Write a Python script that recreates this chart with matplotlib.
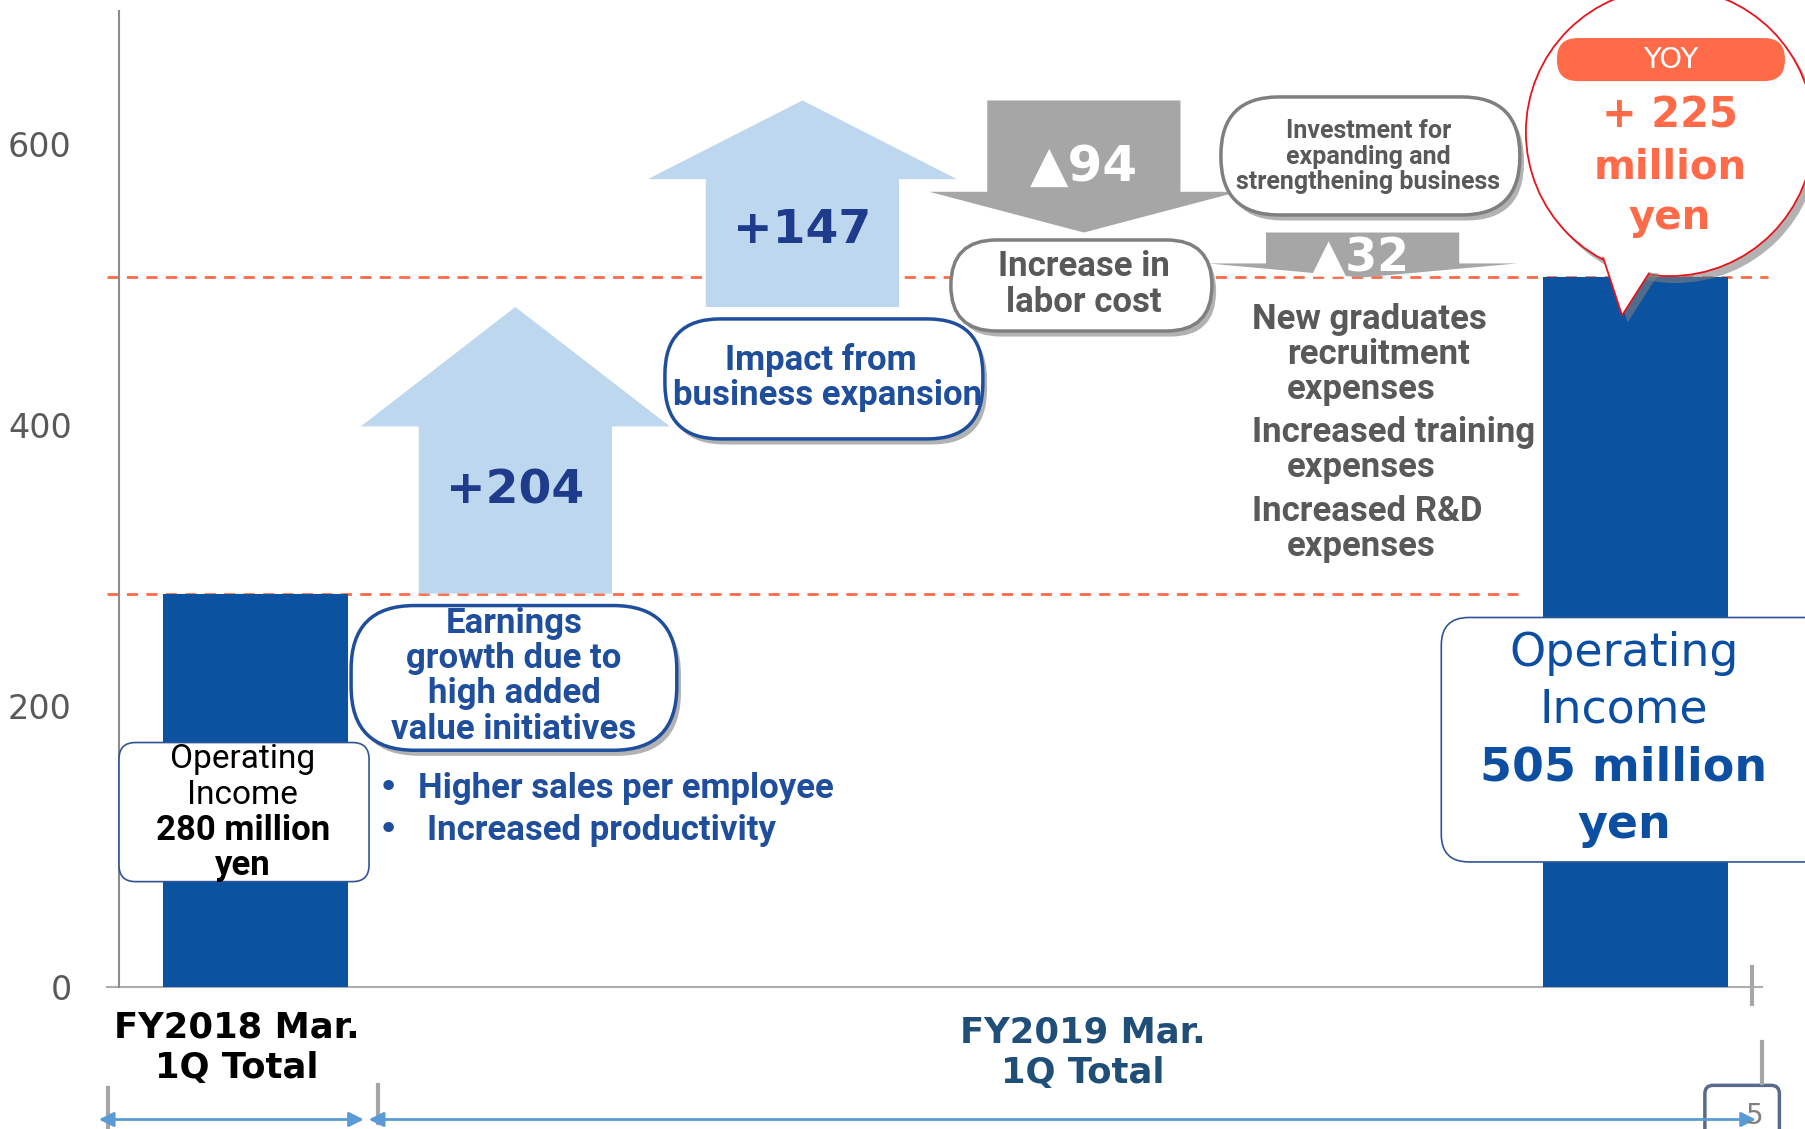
import matplotlib.pyplot as plt
from matplotlib.patches import FancyBboxPatch, Polygon, Ellipse
import matplotlib.patheffects as pe

# values (million yen)
start_value = 280
step_values = [204, 147, -94, -32]
step_labels = ['+204', '+147', '▲94', '▲32']
end_value = 505
y_ticks = [0, 200, 400, 600]
period_labels = ['FY2018 Mar.\n1Q Total', 'FY2019 Mar.\n1Q Total']
start_box = ['Operating', 'Income', '280 million', 'yen']
end_box = ['Operating', 'Income', '505 million', 'yen']
yoy_lines = ['+ 225', 'million', 'yen']
bullets = ['Higher sales per employee', 'Increased productivity']
invest_items = [('New graduates', 'recruitment', 'expenses'),
                ('Increased training', 'expenses'),
                ('Increased R&D', 'expenses')]

# layout
bar_x = [0, 5.0]
step_x = [0.94, 1.98, 3.0, 4.01]
head_len = [85, 56, 29, 10]
BAR_BLUE = '#0B52A0'
UP_BLUE = '#BDD7EE'
DOWN_GRAY = '#A6A6A6'
NAVY = '#1F3B8C'
MID_BLUE = '#1F4E9C'
TEXT_GRAY = '#595959'
ORANGE = '#FF6A48'
NARROW = ['Roboto', 'DejaVu Sans']

fig = plt.figure(figsize=(18.06, 11.29), dpi=100)
ax = fig.add_axes([119 / 1806, 142 / 1129, 1643 / 1806, 987 / 1129])
ax.set_xlim(-0.496, 5.457)
ax.set_ylim(0, 702.5)
ASP = (1643 / 5.953) / (987 / 702.5)   # px per x unit / px per y unit

for s in ['top', 'right', 'bottom']:
    ax.spines[s].set_visible(False)
ax.spines['left'].set_color('#8C8C8C')
ax.spines['left'].set_linewidth(1.5)
ax.spines['left'].set_bounds(0, 695)
ax.set_xticks([])
ax.set_yticks(y_ticks)
ax.set_yticklabels([str(v) for v in y_ticks], fontsize=24, color=TEXT_GRAY)
ax.tick_params(axis='y', length=0, pad=34)

# baseline and reference lines
ax.plot([-0.54, 5.457], [0, 0], color='#ADADAD', lw=1.5, clip_on=False, zorder=1)
ax.plot([5.42, 5.42], [14, -12], color='#A6A6A6', lw=3, clip_on=False)
ax.plot([-0.54, 4.572], [start_value, start_value], ls=(0, (4, 3)), color=ORANGE, lw=2,
        zorder=2, clip_on=False)
ax.plot([-0.54, 5.478], [end_value, end_value], ls=(0, (4, 3)), color=ORANGE, lw=2,
        zorder=2, clip_on=False)

# bars
ax.bar(bar_x, [start_value, end_value], width=0.67, color=BAR_BLUE, zorder=3)

# step arrows
level = start_value
for x, d, hl in zip(step_x, step_values, head_len):
    y0, y1 = level, level + d
    sgn = 1 if d > 0 else -1
    yb = y1 - sgn * hl
    sw, hw = 0.70, 1.12
    pts = [(x - sw / 2, y0), (x - sw / 2, yb), (x - hw / 2, yb), (x, y1),
           (x + hw / 2, yb), (x + sw / 2, yb), (x + sw / 2, y0)]
    col = UP_BLUE if d > 0 else DOWN_GRAY
    ax.add_patch(Polygon(pts, closed=True, fc=col, ec='none', zorder=2.5))
    level = y1

ax.text(step_x[0], 353, step_labels[0], ha='center', va='center', fontsize=34,
        fontweight='bold', color=NAVY, zorder=6)
ax.text(step_x[1], 538.5, step_labels[1], ha='center', va='center', fontsize=34,
        fontweight='bold', color=NAVY, zorder=6)
ax.text(step_x[2], 584, step_labels[2], ha='center', va='center', fontsize=36,
        fontweight='bold', color='white', zorder=6)
ax.text(step_x[3] - 0.01, 518, step_labels[3], ha='center', va='center', fontsize=33,
        fontweight='bold', color='white', zorder=6)


def bubble(xc, yc, w, h, r, ec, lw, shadow=True, z=5):
    effects = [pe.SimplePatchShadow(offset=(3, -4), shadow_rgbFace='#7F7F7F', alpha=0.6),
               pe.Normal()] if shadow else None
    p = FancyBboxPatch((xc - w / 2, yc - h / 2), w, h,
                       boxstyle=f'round,pad=0,rounding_size={r}', mutation_aspect=ASP,
                       fc='white', ec=ec, lw=lw, zorder=z, clip_on=False,
                       path_effects=effects)
    ax.add_patch(p)


# earnings bubble
bubble(0.935, 220, 1.18, 103, 0.23, MID_BLUE, 2.5)
for i, line in enumerate(['Earnings', 'growth due to', 'high added', 'value initiatives']):
    ax.text(0.935, 259 - i * 25.2, line, ha='center', va='center', fontsize=25,
            fontweight='bold', color=MID_BLUE, family=NARROW, zorder=6)

# bullets
for i, line in enumerate(bullets):
    yy = 141.6 - i * 30
    ax.text(0.478, yy, '•', ha='center', va='center', fontsize=26, color=MID_BLUE, zorder=6)
    ax.text(0.587 + i * 0.033, yy, line, ha='left', va='center', fontsize=25,
            fontweight='bold', color=MID_BLUE, family=NARROW, zorder=6)

# impact bubble
bubble(2.058, 432.8, 1.152, 85.4, 0.2, MID_BLUE, 2.5)
ax.text(2.047, 446, 'Impact from', ha='center', va='center', fontsize=25,
        fontweight='bold', color=MID_BLUE, family=NARROW, zorder=6)
ax.text(2.07, 421, 'business expansion', ha='center', va='center', fontsize=25,
        fontweight='bold', color=MID_BLUE, family=NARROW, zorder=6)

# labor cost bubble
bubble(2.991, 499.3, 0.946, 64.8, 0.165, '#7F7F7F', 2.5)
ax.text(3.0, 512.5, 'Increase in', ha='center', va='center', fontsize=25,
        fontweight='bold', color=TEXT_GRAY, family=NARROW, zorder=6)
ax.text(3.0, 487.5, 'labor cost', ha='center', va='center', fontsize=25,
        fontweight='bold', color=TEXT_GRAY, family=NARROW, zorder=6)

# investment bubble
bubble(4.038, 591.5, 1.083, 84, 0.21, '#7F7F7F', 2.5)
for i, line in enumerate(['Investment for', 'expanding and', 'strengthening business']):
    ax.text(4.03, 609 - i * 18, line, ha='center', va='center', fontsize=18,
            fontweight='bold', color=TEXT_GRAY, family=NARROW, zorder=6)

# investment items
yy = 475.4
for item in invest_items:
    for j, line in enumerate(item):
        ax.text(3.609 if j == 0 else 3.735, yy, line, ha='left', va='center', fontsize=25,
                fontweight='bold', color=TEXT_GRAY, family=NARROW, zorder=6)
        yy -= 25
    yy -= 6

# start box
bubble(-0.043, 124.5, 0.906, 99, 0.06, '#2F5597', 1.2, shadow=False)
for i, line in enumerate(start_box):
    ax.text(-0.047, 162 - i * 25.2, line, ha='center', va='center',
            fontsize=25 if i >= 2 else 24,
            fontweight='bold' if i >= 2 else 'normal', color='black', family=NARROW, zorder=6)

# end box
bubble(5.07, 176, 1.55, 174, 0.1, '#2F5597', 1.2, shadow=False)
for i, line in enumerate(end_box):
    ax.text(4.957, 237.7 - i * 40.8, line, ha='center', va='center', fontsize=33,
            fontweight='bold' if i >= 2 else 'normal', color='#0B4EA2', zorder=6)

# YOY callout
shadow_fx = [pe.SimplePatchShadow(offset=(4, -5), shadow_rgbFace='#7F7F7F', alpha=0.6), pe.Normal()]
circ = Ellipse((5.123, 608.5), 1.043, 205, fc='white', ec='#E8141C', lw=1.3, zorder=7,
               clip_on=False, path_effects=shadow_fx)
ax.add_patch(circ)
tail = Polygon([(4.88, 520), (4.95, 478), (5.08, 518)], closed=True, fc='white',
               ec='#E8141C', lw=1.3, zorder=7, clip_on=False, path_effects=shadow_fx)
ax.add_patch(tail)
ax.add_patch(Ellipse((5.123, 608.5), 1.03, 202, fc='white', ec='none', zorder=7.5, clip_on=False))
ax.add_patch(FancyBboxPatch((4.714, 644.8), 0.826, 30.6, boxstyle='round,pad=0,rounding_size=0.075',
                            mutation_aspect=ASP, fc=ORANGE, ec='none', zorder=8, clip_on=False))
ax.text(5.127, 660, 'YOY', ha='center', va='center', fontsize=21, color='white', zorder=9)
for i, line in enumerate(yoy_lines):
    ax.text(5.123, 620 - i * 36.4, line, ha='center', va='center',
            fontsize=30 if i == 0 else 29,
            fontweight='bold', color=ORANGE, zorder=9, clip_on=False)

# period labels under the axis
ax.text(-0.068, -43, period_labels[0], ha='center', va='center', fontsize=25.5,
        fontweight='bold', color='black', linespacing=1.25, clip_on=False)
ax.text(2.996, -47, period_labels[1], ha='center', va='center', fontsize=25.5,
        fontweight='bold', color='#1F4E79', linespacing=1.25, clip_on=False)

# period brackets
ARROW_BLUE = '#5B9BD5'
for x0, x1 in [(-0.569, 0.391), (0.409, 5.435)]:
    ax.annotate('', xy=(x1, -94.3), xytext=(x0, -94.3), annotation_clip=False,
                arrowprops=dict(arrowstyle='<|-|>', color=ARROW_BLUE, lw=2, mutation_scale=22,
                                shrinkA=0, shrinkB=0))
for x, ya, yb in [(-0.536, -72, -101), (0.443, -70, -97), (5.457, -39, -68)]:
    ax.plot([x, x], [ya, yb], color='#A6A6A6', lw=3, clip_on=False)

# page number
ax.add_patch(FancyBboxPatch((5.25, -110), 0.27, 40, boxstyle='round,pad=0,rounding_size=0.03',
                            mutation_aspect=ASP, fc='white', ec='#5A6A8C', lw=2.5, clip_on=False))
ax.text(5.43, -92, '5', ha='center', va='center', fontsize=20, color='#7F7F7F', clip_on=False)

fig.savefig('out.png', dpi=100)
